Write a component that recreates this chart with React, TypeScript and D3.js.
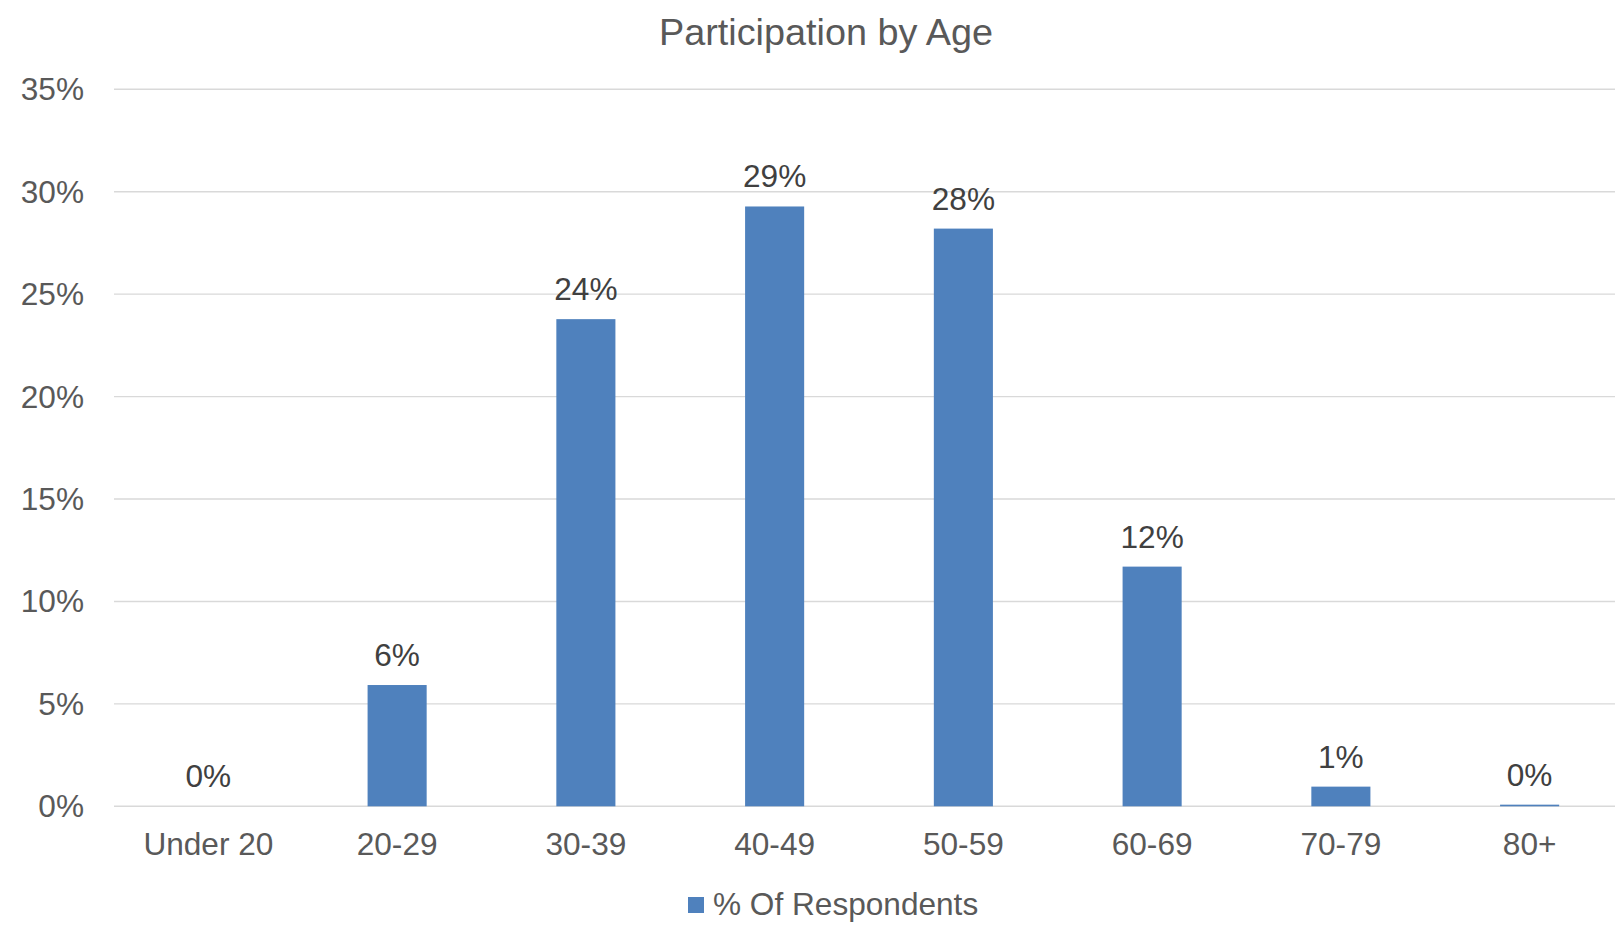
import React from "react";
import * as d3 from "d3";

const categories = ["Under 20", "20-29", "30-39", "40-49", "50-59", "60-69", "70-79", "80+"];
const respondents = [0.0, 0.0592, 0.2378, 0.2928, 0.282, 0.117, 0.0096, 0.0008];
const yTicks = [0, 0.05, 0.1, 0.15, 0.2, 0.25, 0.3, 0.35];
const title = "Participation by Age";
const seriesName = "% Of Respondents";

const W = 1615;
const H = 931;
const FONT = "'Liberation Sans', Arial, sans-serif";
const BAR = "#4f81bd";
const FS = 31.6;

export default function App() {
  const x = d3
    .scaleBand<string>()
    .domain(categories)
    .range([114, 1624])
    .paddingInner(0.687)
    .paddingOuter(0.3435);
  const y = d3.scaleLinear().domain([0, 0.35]).range([806.3, 89.3]);
  const pct = d3.format(".0%");

  return (
    <svg
      width={W}
      height={H}
      style={{ position: "absolute", left: 0, top: 0, background: "#fff" }}
      fontFamily={FONT}
    >
      <rect width={W} height={H} fill="#fff" />
      <text x={826} y={45} textAnchor="middle" fontSize={37.8} fill="#595959">
        {title}
      </text>

      {yTicks.map((t) => (
        <g key={t}>
          <line x1={114} x2={W} y1={y(t)} y2={y(t)} stroke="#d9d9d9" strokeWidth={1.4} />
          <text x={84} y={y(t) + 11} textAnchor="end" fontSize={FS} fill="#595959">
            {pct(t)}
          </text>
        </g>
      ))}

      {categories.map((c, i) => {
        const v = respondents[i];
        const bx = x(c)!;
        const cx = bx + x.bandwidth() / 2;
        return (
          <g key={c}>
            {v > 0 && (
              <rect x={bx} y={y(v)} width={x.bandwidth()} height={y(0) - y(v)} fill={BAR} />
            )}
            <text x={cx} y={y(v) - 19} textAnchor="middle" fontSize={FS} fill="#404040">
              {pct(v)}
            </text>
            <text x={cx} y={855} textAnchor="middle" fontSize={FS} fill="#595959">
              {c}
            </text>
          </g>
        );
      })}

      <rect x={688} y={897} width={16} height={16} fill={BAR} />
      <text x={713} y={915} fontSize={FS} fill="#595959">
        {seriesName}
      </text>
    </svg>
  );
}
